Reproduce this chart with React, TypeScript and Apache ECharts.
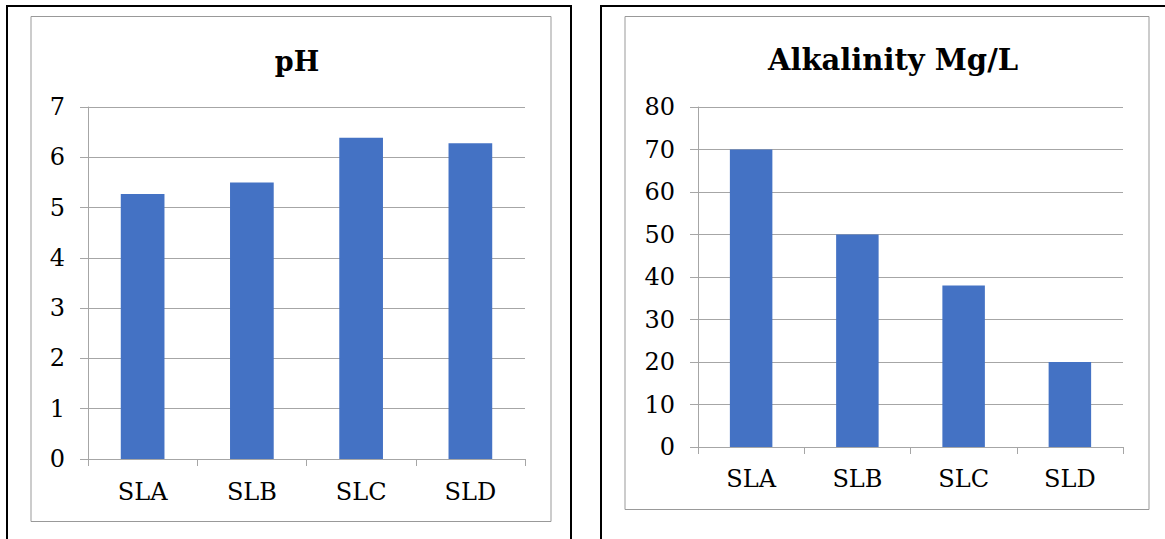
import React, { useEffect, useRef } from "react";
import * as echarts from "echarts";

const categories = ["SLA", "SLB", "SLC", "SLD"];
const phValues = [5.27, 5.5, 6.39, 6.28];
const alkalinityValues = [70, 50, 38, 20];
const phTitle = "pH";
const alkalinityTitle = "Alkalinity Mg/L";

const BAR = "#4472C4";
const GRID_LINE = "#a6a6a6";
const FONT = "'DejaVu Serif', 'Liberation Serif', serif";

export default function App() {
  const ref = useRef<HTMLDivElement>(null);

  useEffect(() => {
    if (!ref.current) return;
    const chart = echarts.init(ref.current, null, { renderer: "svg" });

    const xAxisBase = (gridIndex: number, margin: number) => ({
      type: "category" as const,
      gridIndex,
      data: categories,
      boundaryGap: true,
      axisLine: { show: true, lineStyle: { color: GRID_LINE, width: 1 } },
      axisTick: { show: true, length: 7, lineStyle: { color: GRID_LINE } },
      axisLabel: { color: "#000", fontFamily: FONT, fontSize: 24, margin },
      splitLine: { show: false },
    });

    const yAxisBase = (gridIndex: number, max: number, interval: number) => ({
      type: "value" as const,
      gridIndex,
      min: 0,
      max,
      interval,
      axisLine: { show: true, lineStyle: { color: GRID_LINE, width: 1 } },
      axisTick: { show: true, length: 8, lineStyle: { color: GRID_LINE } },
      axisLabel: { color: "#000", fontFamily: FONT, fontSize: 24, margin: 23 },
      splitLine: { show: true, lineStyle: { color: GRID_LINE, width: 1 } },
    });

    chart.setOption({
      animation: false,
      backgroundColor: "#fff",
      title: [
        {
          text: phTitle,
          left: 292,
          top: 43,
          textAlign: "center",
          textStyle: { fontFamily: FONT, fontWeight: "bold", fontSize: 27, color: "#000" },
        },
        {
          text: alkalinityTitle,
          left: 888,
          top: 40,
          textAlign: "center",
          textStyle: { fontFamily: FONT, fontWeight: "bold", fontSize: 29, color: "#000" },
        },
      ],
      grid: [
        { left: 88, top: 107, width: 437, height: 352, containLabel: false },
        { left: 698, top: 107, width: 425, height: 340, containLabel: false },
      ],
      xAxis: [xAxisBase(0, 21), xAxisBase(1, 20)],
      yAxis: [yAxisBase(0, 7, 1), yAxisBase(1, 80, 10)],
      series: [
        {
          type: "bar",
          xAxisIndex: 0,
          yAxisIndex: 0,
          data: phValues,
          barWidth: "40%",
          itemStyle: { color: BAR },
        },
        {
          type: "bar",
          xAxisIndex: 1,
          yAxisIndex: 1,
          data: alkalinityValues,
          barWidth: "40%",
          itemStyle: { color: BAR },
        },
      ],
      graphic: [
        {
          type: "rect",
          shape: { x: 7, y: 6, width: 564, height: 600 },
          style: { fill: "none", stroke: "#000", lineWidth: 2 },
          silent: true,
        },
        {
          type: "rect",
          shape: { x: 601, y: 6, width: 600, height: 600 },
          style: { fill: "none", stroke: "#000", lineWidth: 2 },
          silent: true,
        },
        {
          type: "rect",
          shape: { x: 31, y: 16.5, width: 520, height: 505 },
          style: { fill: "none", stroke: "#999", lineWidth: 1 },
          silent: true,
        },
        {
          type: "rect",
          shape: { x: 625, y: 16.5, width: 524, height: 493 },
          style: { fill: "none", stroke: "#999", lineWidth: 1 },
          silent: true,
        },
      ],
    });

    return () => chart.dispose();
  }, []);

  return (
    <div
      ref={ref}
      style={{ position: "fixed", left: 0, top: 0, width: 1165, height: 539 }}
    />
  );
}
